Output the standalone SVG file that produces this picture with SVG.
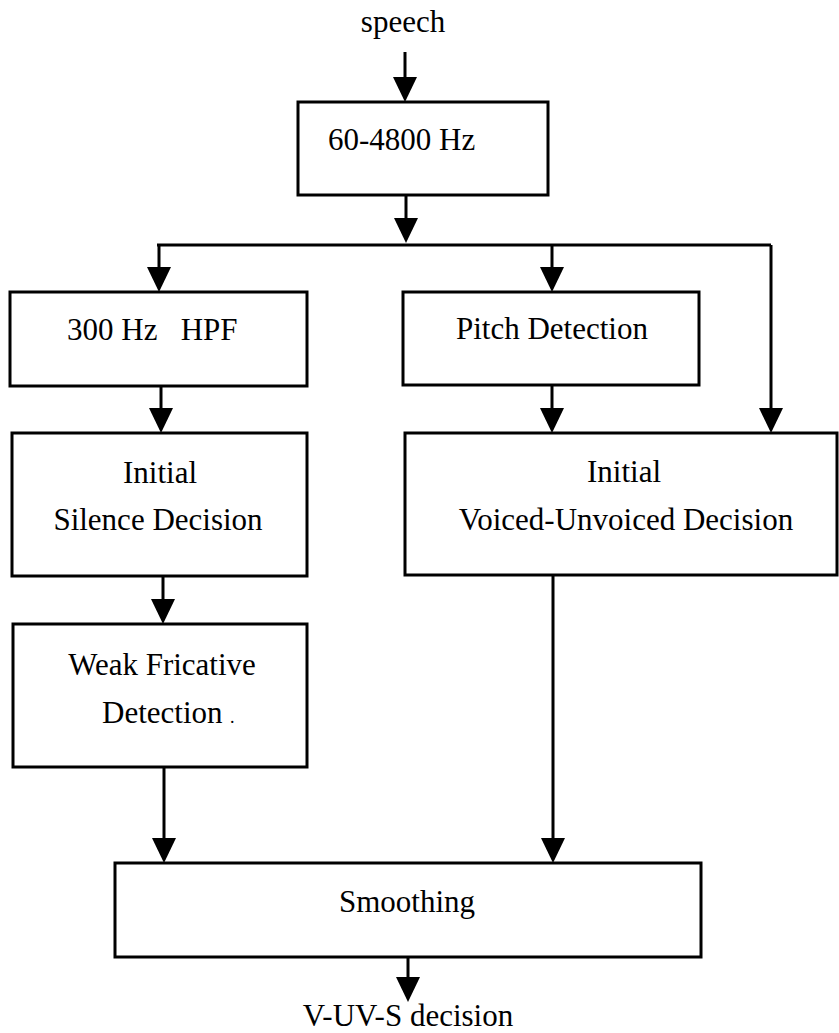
<svg xmlns="http://www.w3.org/2000/svg" width="839" height="1033" viewBox="0 0 839 1033">
  <style>
    .box { fill: #fff; stroke: #000; stroke-width: 3; }
    .wire { fill: none; stroke: #000; stroke-width: 3; }
    .lbl { font-family: 'Liberation Serif', 'DejaVu Serif', 'Noto Serif', serif; font-size: 31px; fill: #000; }
    .mid { text-anchor: middle; }
  </style>
  <defs>
    <marker id="head" markerUnits="userSpaceOnUse" markerWidth="26" markerHeight="26" refX="15" refY="13" orient="auto">
      <path d="M0,1 L25,13 L0,25 Z" fill="#000"/>
    </marker>
  </defs>

  <rect width="839" height="1033" fill="#fff"/>

  <!-- connectors -->
  <g id="connectors">
    <path class="wire" d="M405,52 V92" marker-end="url(#head)"/>
    <path class="wire" d="M406,195 V233" marker-end="url(#head)"/>
    <path class="wire" d="M157,245 H771"/>
    <path class="wire" d="M159,245 V282" marker-end="url(#head)"/>
    <path class="wire" d="M552,245 V282" marker-end="url(#head)"/>
    <path class="wire" d="M771,245 V423" marker-end="url(#head)"/>
    <path class="wire" d="M161,386 V423" marker-end="url(#head)"/>
    <path class="wire" d="M163,576 V614" marker-end="url(#head)"/>
    <path class="wire" d="M164,767 V853" marker-end="url(#head)"/>
    <path class="wire" d="M552,385 V423" marker-end="url(#head)"/>
    <path class="wire" d="M553,575 V853" marker-end="url(#head)"/>
    <path class="wire" d="M408,957 V992" marker-end="url(#head)"/>
  </g>

  <!-- input / output labels -->
  <text id="input-label" class="lbl mid" x="403" y="32" font-family="Liberation Serif, serif">speech</text>
  <text id="output-label" class="lbl mid" x="408" y="1026" font-family="Liberation Serif, serif">V-UV-S decision</text>

  <g id="bandpass">
    <rect class="box" x="298" y="102" width="250" height="93"/>
    <text class="lbl" x="328" y="150">60-4800 Hz</text>
  </g>

  <g id="hpf">
    <rect class="box" x="10" y="292" width="297" height="94"/>
    <text class="lbl" x="67" y="340" xml:space="preserve">300 Hz   HPF</text>
  </g>

  <g id="pitch">
    <rect class="box" x="403" y="292" width="296" height="93"/>
    <text class="lbl" x="456" y="339">Pitch Detection</text>
  </g>

  <g id="silence">
    <rect class="box" x="12" y="433" width="295" height="143"/>
    <text class="lbl mid" x="160" y="483">Initial</text>
    <text class="lbl mid" x="158" y="530">Silence Decision</text>
  </g>

  <g id="vuv">
    <rect class="box" x="405" y="433" width="432" height="142"/>
    <text class="lbl mid" x="624" y="482">Initial</text>
    <text class="lbl mid" x="626" y="530">Voiced-Unvoiced Decision</text>
  </g>

  <g id="fricative">
    <rect class="box" x="13" y="624" width="294" height="143"/>
    <text class="lbl mid" x="162" y="675">Weak Fricative</text>
    <text class="lbl" x="102" y="723">Detection<tspan x="230" font-size="18">.</tspan></text>
  </g>

  <g id="smoothing">
    <rect class="box" x="115" y="863" width="586" height="94"/>
    <text class="lbl mid" x="407" y="912">Smoothing</text>
  </g>
</svg>
